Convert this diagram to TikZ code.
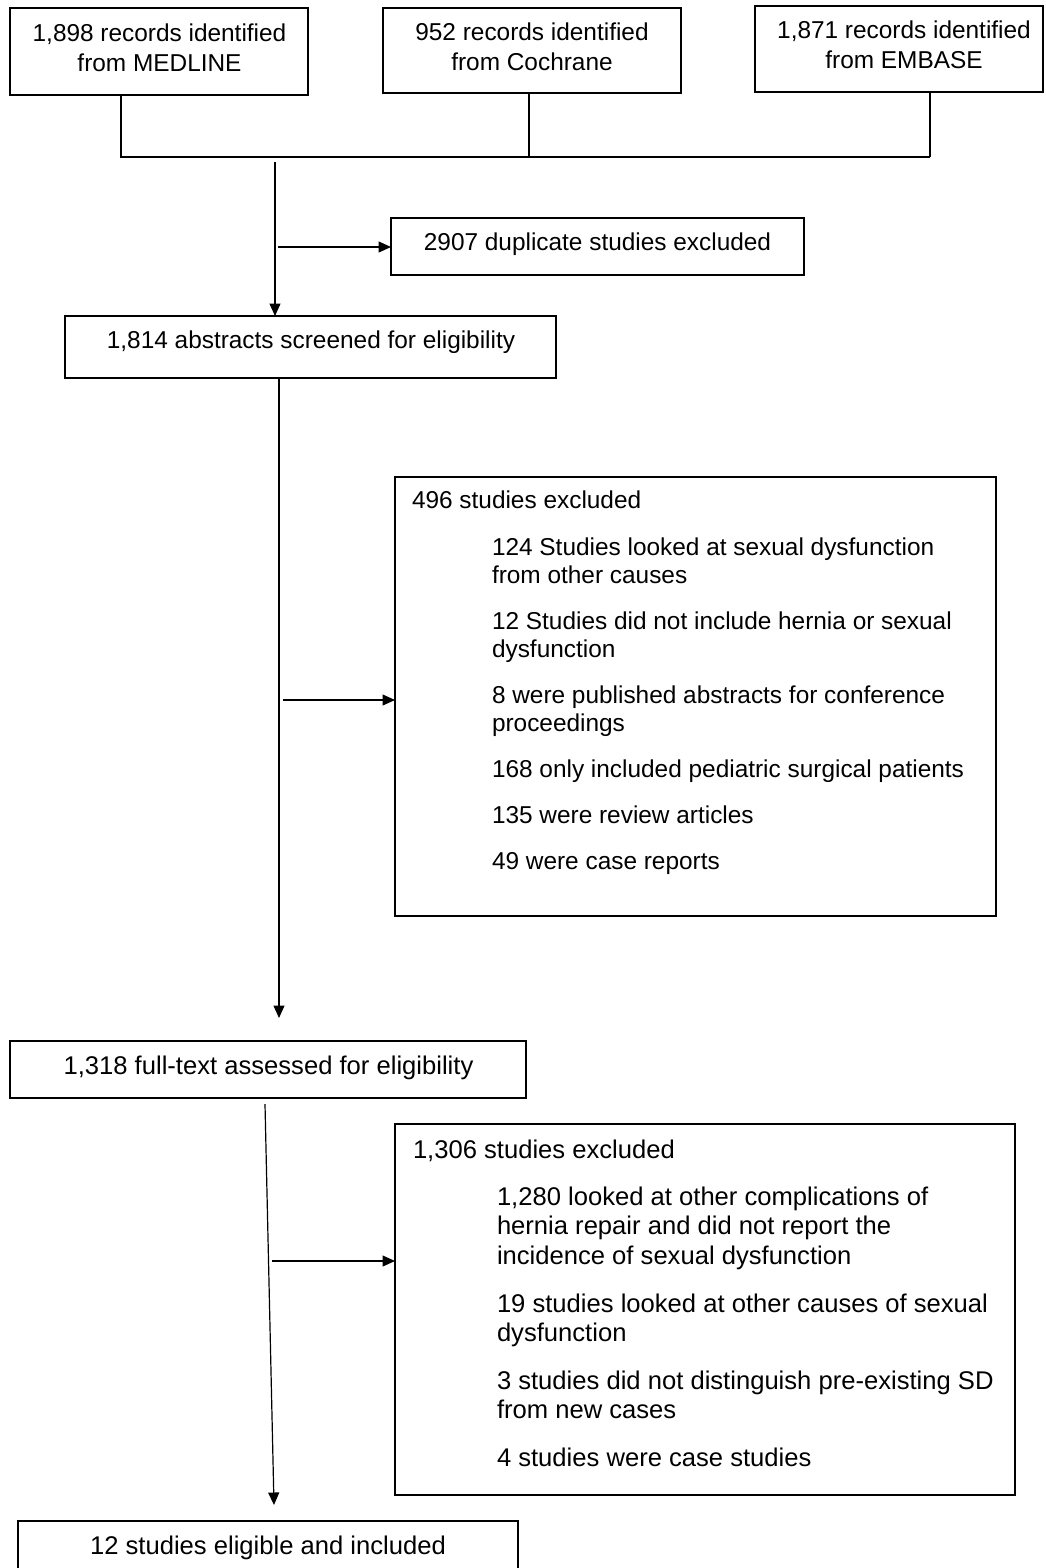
\documentclass[tikz,border=0pt]{standalone}
\usepackage{fontspec}
\setmainfont{Liberation Sans}
\usetikzlibrary{arrows.meta}
\begin{document}
\begin{tikzpicture}[x=1pt,y=-1pt,
  box/.style={draw, line width=1.8pt, inner sep=0pt, outer sep=0pt},
  txt/.style={inner sep=0pt, outer sep=0pt, font=\fontsize{24.4}{29.5}\selectfont},
  btxt/.style={inner sep=0pt, outer sep=0pt, font=\fontsize{25.6}{29.5}\selectfont},
  ctxt/.style={txt, anchor=north, align=center},
  ltxt/.style={txt, anchor=north west, align=left},
  bctxt/.style={btxt, anchor=north, align=center},
  bltxt/.style={btxt, anchor=north west, align=left},
  conn/.style={draw, line width=1.2pt},
  arr/.style={conn, -{Triangle[length=12.5pt,width=11pt]}}
]
\clip (0,0) rectangle (1045,1568);
\useasboundingbox (0,0) rectangle (1045,1568);
\fill[white] (0,0) rectangle (1045,1568);

% boxes
\node[box, minimum width=298pt, minimum height=87pt] (med) at (159,51.5) {};
\node[box, minimum width=298pt, minimum height=85pt] (coch) at (532,50.5) {};
\node[box, minimum width=288pt, minimum height=86pt] (emb) at (899,49) {};
\node[box, minimum width=413pt, minimum height=57pt] (dup) at (597.5,246.5) {};
\node[box, minimum width=491pt, minimum height=62pt] (abs) at (310.5,347) {};
\node[box, minimum width=601pt, minimum height=439pt] (exa) at (695.5,696.5) {};
\node[box, minimum width=516pt, minimum height=57pt] (full) at (268,1069.5) {};
\node[box, minimum width=620pt, minimum height=371pt] (exb) at (705,1309.5) {};
\node[box, minimum width=500pt, minimum height=69pt] (inc) at (268,1555.5) {};

% texts
\node[ctxt, font=\fontsize{24.4}{30}\selectfont] (tmed) at (159.5,24) {1,898 records identified\\from MEDLINE};
\node[ctxt, font=\fontsize{24.4}{30}\selectfont] (tcoch) at (532,23) {952 records identified\\from Cochrane};
\node[ctxt, font=\fontsize{24.4}{30}\selectfont] (temb) at (904,21) {1,871 records identified\\from EMBASE};
\node[ctxt] (tdup) at (597.5,233) {2907 duplicate studies excluded};
\node[ctxt] (tabs) at (311,331) {1,814 abstracts screened for eligibility};

\node[ltxt] (ta0) at (412,491) {496 studies excluded};
\node[ltxt, font=\fontsize{24.4}{28}\selectfont] (ta1) at (492,538) {124 Studies looked at sexual dysfunction\\from other causes};
\node[ltxt, font=\fontsize{24.4}{28}\selectfont] (ta2) at (492,612) {12 Studies did not include hernia or sexual\\dysfunction};
\node[ltxt, font=\fontsize{24.4}{28}\selectfont] (ta3) at (492,686) {8 were published abstracts for conference\\proceedings};
\node[ltxt] (ta4) at (492,760) {168 only included pediatric surgical patients};
\node[ltxt] (ta5) at (492,806) {135 were review articles};
\node[ltxt] (ta6) at (492,852) {49 were case reports};

\node[bctxt] (tfull) at (268.5,1055.5) {1,318 full-text assessed for eligibility};

\node[bltxt] (tb0) at (413,1139.5) {1,306 studies excluded};
\node[bltxt] (tb1) at (497,1186.5) {1,280 looked at other complications of\\hernia repair and did not report the\\incidence of sexual dysfunction};
\node[bltxt] (tb2) at (497,1293.5) {19 studies looked at other causes of sexual\\dysfunction};
\node[bltxt] (tb3) at (497,1370.5) {3 studies did not distinguish pre-existing SD\\from new cases};
\node[bltxt] (tb4) at (497,1447.5) {4 studies were case studies};

\node[bctxt] (tinc) at (268,1535.5) {12 studies eligible and included};

% junction coordinates
\coordinate (j1) at (121,158);
\coordinate (j2) at (529,157);
\coordinate (j3) at (930,157);
\coordinate (s1) at (275,162);
\coordinate (b1) at (278,247);
\coordinate (a1) at (279,378);
\coordinate (t1) at (279,1018);
\coordinate (b2) at (283,700);
\coordinate (f1) at (265,1104);
\coordinate (t2) at (274,1505);
\coordinate (b3) at (272,1261);

% connectors
\draw[conn] (med.south -| j1) -- (j1);
\draw[conn] (coch.south -| j2) -- (j2);
\draw[conn] (emb.south -| j3) -- (j3);
\draw[conn] (j1 |- j2) -- (j3);
\draw[arr] (s1) -- (abs.north -| s1);
\draw[arr] (b1) -- (b1 -| dup.west);
\draw[arr] (abs.south -| a1) -- (t1);
\draw[arr] (b2) -- (b2 -| exa.west);
\draw[arr] (f1) -- (t2);
\draw[arr] (b3) -- (b3 -| exb.west);
\end{tikzpicture}
\end{document}
